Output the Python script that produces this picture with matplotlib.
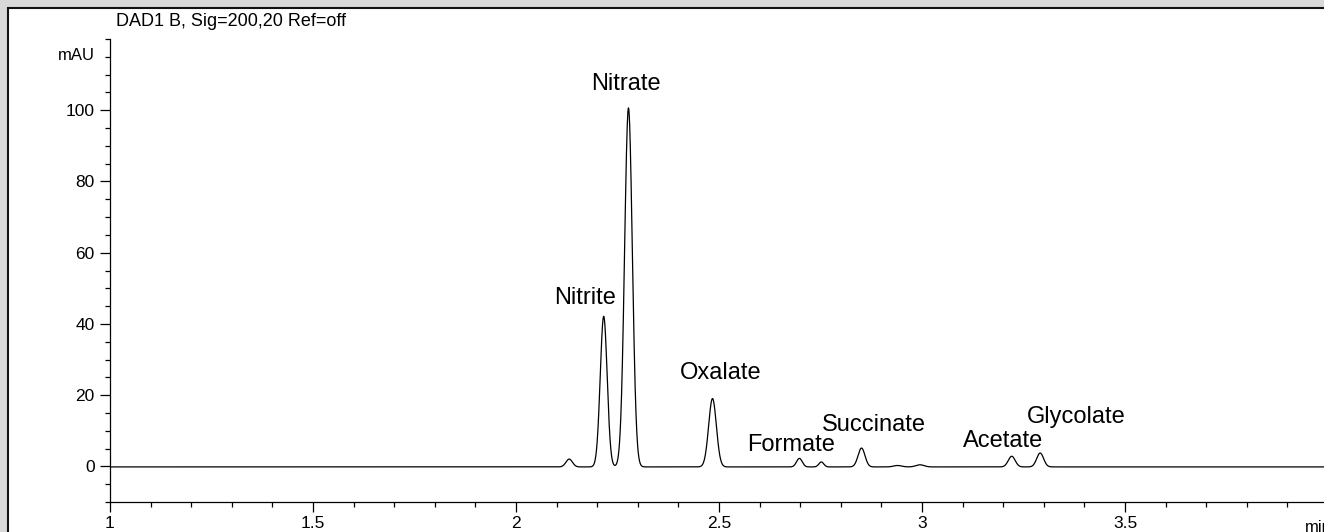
import numpy as np
import matplotlib
matplotlib.use('Agg')
import matplotlib.pyplot as plt
from matplotlib.patches import Rectangle
from matplotlib.ticker import MultipleLocator, FixedLocator

plt.rcParams['font.family'] = ['Liberation Sans', 'DejaVu Sans']

# peak table (retention time in min, height in mAU, sigma in min)
peak_time = [2.131, 2.216, 2.277, 2.484, 2.698, 2.752, 2.851, 2.940, 2.995, 3.221, 3.291]
peak_height = [2.2, 42.3, 100.8, 19.2, 2.4, 1.4, 5.3, 0.4, 0.6, 3.0, 3.9]
peak_sigma = [0.008, 0.0085, 0.0095, 0.0095, 0.007, 0.006, 0.0085, 0.01, 0.01, 0.0085, 0.0085]
baseline = -0.15

labels = ['Nitrite', 'Nitrate', 'Oxalate', 'Formate', 'Succinate', 'Acetate', 'Glycolate']
label_x = [2.170, 2.271, 2.505, 2.677, 2.881, 3.200, 3.381]
label_y = [47.4, 107.3, 26.1, 5.9, 11.5, 7.0, 13.85]

t = np.linspace(1.0, 4.0, 6001)
signal = np.full_like(t, baseline)
for t0, h, s in zip(peak_time, peak_height, peak_sigma):
    signal += h * np.exp(-0.5 * ((t - t0) / s) ** 2)

W, H = 1324, 532
fig = plt.figure(figsize=(W / 100, H / 100), dpi=100, facecolor='#d8d8d8')
fig.patches.append(Rectangle((8 / W, -0.1), 1.2, (H - 8) / H + 0.1, transform=fig.transFigure,
                             facecolor='white', edgecolor='#111111', linewidth=1.5, zorder=-1))

ax = fig.add_axes([110 / W, 30 / H, (W - 110) / W, 463 / H])
ax.set_facecolor('none')
ax.plot(t, signal, color='black', linewidth=0.9)

ax.set_xlim(1.0, 1.0 + (W - 110) / 406)
ax.set_ylim(-10, 120)
for side in ['top', 'right']:
    ax.spines[side].set_visible(False)
ax.spines['left'].set_linewidth(0.9)
ax.spines['bottom'].set_linewidth(0.9)

ax.xaxis.set_major_locator(FixedLocator([1, 1.5, 2, 2.5, 3, 3.5]))
ax.set_xticklabels(['1', '1.5', '2', '2.5', '3', '3.5'])
ax.xaxis.set_minor_locator(MultipleLocator(0.1))
ax.yaxis.set_major_locator(FixedLocator([0, 20, 40, 60, 80, 100]))
ax.yaxis.set_minor_locator(MultipleLocator(5))
ax.tick_params(axis='both', which='major', direction='out', length=7, width=0.9, labelsize=12.5, pad=3)
ax.tick_params(axis='both', which='minor', direction='out', length=3.6, width=0.9)
ax.tick_params(axis='y', which='major', pad=4)

for name, x, y in zip(labels, label_x, label_y):
    ax.text(x, y, name, fontsize=17, ha='center', va='center')

fig.text(116 / W, 1 - 21 / H, 'DAD1 B, Sig=200,20 Ref=off', fontsize=13, ha='left', va='center')
fig.text(95 / W, 1 - 55 / H, 'mAU', fontsize=12, ha='right', va='center')
fig.text(1305 / W, 1 - 527 / H, 'min', fontsize=12, ha='left', va='center')

fig.savefig('out.png', dpi=100, facecolor=fig.get_facecolor())
